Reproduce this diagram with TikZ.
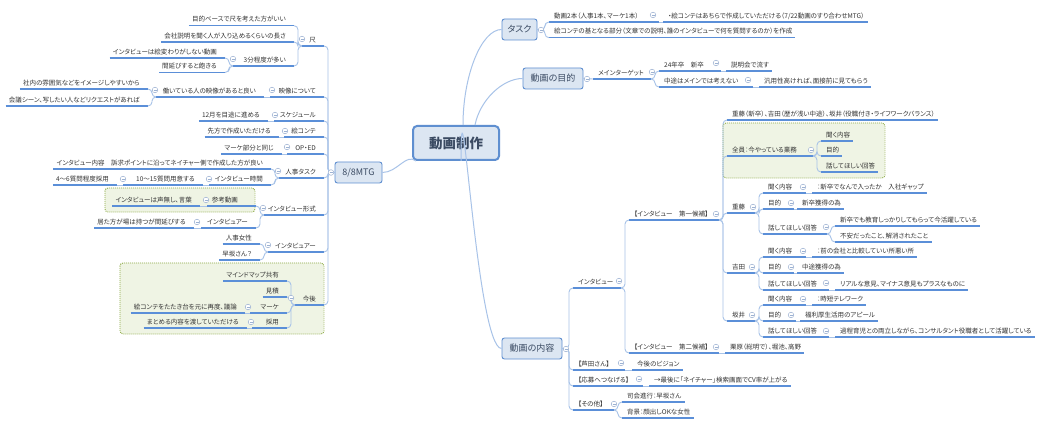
\documentclass[tikz,border=0pt]{standalone}
\usepackage{fontspec}
\newfontfamily\jp[RawFeature=+palt]{Noto Sans CJK JP}
\definecolor{ul}{HTML}{5B8FD8}
\definecolor{cn}{HTML}{A8C3E8}
\definecolor{bfill}{HTML}{DCE6F2}
\definecolor{bdraw}{HTML}{5F8FD0}
\definecolor{txt}{HTML}{333333}
\definecolor{ttxt}{HTML}{3A4A62}
\definecolor{gfill}{HTML}{EFF4E4}
\definecolor{gdraw}{HTML}{8DAA45}
\definecolor{mcol}{HTML}{9DB2D2}
\tikzset{
  uline/.style={draw=ul, line width=1.1pt},
  conn/.style={draw=cn, line width=0.9pt, rounded corners=4pt},
  mconn/.style={draw=cn, line width=1pt},
  topic/.style={font=\jp\fontsize{6.5}{7.5}\selectfont, text=txt, inner xsep=3pt, inner ysep=2.5pt,
    text height=5.8pt, text depth=1.2pt,
    append after command={(\tikzlastnode.south west) edge[uline] (\tikzlastnode.south east)}},
  tr/.style={topic, anchor=south west, execute at begin node={\hspace*{2pt}}},
  tl/.style={topic, anchor=south east, execute at end node={\hspace*{5pt}}},
  mainbox/.style={draw=bdraw, fill=bfill, line width=0.9pt, rounded corners=2.5pt,
    font=\jp\fontsize{9}{10}\selectfont, text=ttxt, inner sep=0pt, minimum height=21pt},
  minus/.style={circle, draw=mcol, fill=white, line width=0.5pt, minimum size=5.6pt, inner sep=0pt,
    path picture={\draw[mcol, line width=0.5pt] ([xshift=1.3pt]path picture bounding box.west) -- ([xshift=-1.3pt]path picture bounding box.east);}},
  gbox/.style={draw=gdraw, fill=gfill, line width=0.9pt, dash pattern=on 0.9pt off 1.1pt, rounded corners=3pt},
}
\newcommand\MB[3]{\node[minus] (#1) at (#2,#3) {};}
\newcommand\CR[2]{\draw[conn] (#1) -| ([xshift=-4pt]#2.south west) -- (#2.south west);}
\newcommand\CL[2]{\draw[conn] (#1) -| ([xshift=4pt]#2.south east) -- (#2.south east);}
\newcommand\FR[3]{\coordinate (#1f) at (#2,#3); \draw[uline] (#1.south east) -- (#1f);}
\newcommand\FL[3]{\coordinate (#1f) at (#2,#3); \draw[uline] (#1.south west) -- (#1f);}
% inline child: parent, child, fork x, child x, y, text
\newcommand\IR[6]{\coordinate (#1f) at (#3,#5); \node[tr] (#2) at (#4,#5) {#6};
  \draw[uline] (#1.south east) -- (#1f); \draw[conn] (#1f) -- (#2.south west);}
\newcommand\IL[6]{\coordinate (#1f) at (#3,#5); \node[tl] (#2) at (#4,#5) {#6};
  \draw[uline] (#1.south west) -- (#1f); \draw[conn] (#1f) -- (#2.south east);}
\begin{document}
\begin{tikzpicture}[x=1pt,y=-1pt]
\useasboundingbox (0,0) rectangle (1046,427);
\fill[white] (0,0) rectangle (1046,427);
% boundaries
\draw[gbox] (723,123) rectangle (885,178);
\draw[gbox] (105,188) rectangle (255,212);
\draw[gbox] (120,263) rectangle (324,334);
% root and main topics
\node[draw=bdraw, fill=bfill, line width=2pt, rounded corners=4pt, minimum width=86pt, minimum height=34pt,
  font=\jp\bfseries\fontsize{13.5}{16}\selectfont, text=ttxt, inner sep=0pt] (root) at (456,143) {動画制作};
\node[mainbox, minimum width=35pt] (T) at (519.5,29.5) {タスク};
\node[mainbox, minimum width=60pt] (P) at (553,78.5) {動画の目的};
\node[mainbox, minimum width=60pt] (C) at (532,348.5) {動画の内容};
\node[mainbox, minimum width=47pt] (M) at (358.5,172.5) {8/8MTG};
\draw[mconn] ([xshift=7pt]root.north) .. controls +(0,-50) and +(-20,0) .. (T.west);
\draw[mconn] ([xshift=19pt]root.north) .. controls +(5,-25) and +(-20,0) .. (P.west);
\draw[mconn] ([xshift=5pt]root.south) .. controls +(0,-120) and +(-25,0) .. (C.west);
\draw[mconn] ([xshift=4pt]root.south west) .. controls +(-10,-8) and +(15,0) .. (M.east);
% ---- タスク
\node[tr] (t1) at (549,22) {動画2本（人事1本、マーケ1本）};
\node[tr] (t2) at (549,37.7) {絵コンテの基となる部分（文章での説明、誰のインタビューで何を質問するのか）を作成};
\CR{T.east}{t1} \CR{T.east}{t2}
\IR{t1}{t1a}{659}{663}{22}{・絵コンテはあちらで作成していただける（7/22動画のすり合わせMTG）}
% ---- 動画の目的
\node[tr] (p1) at (593,79) {メインターゲット};
\draw[conn] (P.east) -- (p1.south west);
\FR{p1}{651}{79}
\node[tr] (p11) at (659,71) {24年卒　新卒};
\node[tr] (p12) at (659,87) {中途はメインでは考えない};
\CR{p1f}{p11} \CR{p1f}{p12}
\IR{p11}{p11a}{721}{726}{71}{説明会で流す}
\IR{p12}{p12a}{753}{759}{87}{汎用性高ければ、面接前に見てもらう}
% ---- 動画の内容
\node[tr] (c1) at (573,288) {インタビュー};
\node[tr] (c2) at (573,370) {【芦田さん】};
\node[tr] (c3) at (573,386) {【応募へつなげる】};
\node[tr] (c4) at (573,410) {【その他】};
\foreach \n in {c1,c2,c3,c4} {\CR{C.east}{\n}}
\FR{c1}{621}{288}
\node[tr] (c11) at (629,220) {【インタビュー　第一候補】};
\node[tr] (c12) at (629,353) {【インタビュー　第二候補】};
\CR{c1f}{c11} \CR{c1f}{c12}
\FR{c11}{719}{220}
\node[tr] (c111) at (727,120) {重藤（新卒）、吉田（歴が浅い中途）、坂井（役職付き・ライフワークバランス）};
\node[tr] (c112) at (727,156) {全員：今やっている業務};
\node[tr] (c113) at (727,213) {重藤};
\node[tr] (c114) at (727,273) {吉田};
\node[tr] (c115) at (727,321) {坂井};
\foreach \n in {c111,c112,c113,c114,c115} {\CR{c11f}{\n}}
\FR{c112}{813}{156}
\node[tr] (c1121) at (821,141) {聞く内容};
\node[tr] (c1122) at (821,156) {目的};
\node[tr] (c1123) at (821,172) {話してほしい回答};
\foreach \n in {c1121,c1122,c1123} {\CR{c112f}{\n}}
% 重藤
\FR{c113}{755}{213}
\node[tr] (c1131) at (763,193) {聞く内容};
\node[tr] (c1132) at (763,209) {目的};
\node[tr] (c1133) at (763,234) {話してほしい回答};
\foreach \n in {c1131,c1132,c1133} {\CR{c113f}{\n}}
\IR{c1131}{c1131a}{806}{812}{193}{：新卒でなんで入ったか　入社ギャップ}
\IR{c1132}{c1132a}{794}{797}{209}{新卒獲得の為}
\FR{c1133}{827}{234}
\node[tr] (c11331) at (835,226) {新卒でも教育しっかりしてもらって今活躍している};
\node[tr] (c11332) at (835,242) {不安だったこと、解消されたこと};
\CR{c1133f}{c11331} \CR{c1133f}{c11332}
% 吉田
\FR{c114}{755}{273}
\node[tr] (c1141) at (763,257) {聞く内容};
\node[tr] (c1142) at (763,273) {目的};
\node[tr] (c1143) at (763,290) {話してほしい回答};
\foreach \n in {c1141,c1142,c1143} {\CR{c114f}{\n}}
\IR{c1141}{c1141a}{806}{812}{257}{：前の会社と比較していい所悪い所}
\IR{c1142}{c1142a}{794}{797}{273}{中途獲得の為}
\IR{c1143}{c1143a}{829}{835}{290}{リアルな意見、マイナス意見もプラスなものに}
% 坂井
\FR{c115}{755}{321}
\node[tr] (c1151) at (763,305) {聞く内容};
\node[tr] (c1152) at (763,321) {目的};
\node[tr] (c1153) at (763,337) {話してほしい回答};
\foreach \n in {c1151,c1152,c1153} {\CR{c115f}{\n}}
\IR{c1151}{c1151a}{806}{812}{305}{：時短テレワーク}
\IR{c1152}{c1152a}{796}{800}{321}{福利厚生活用のアピール}
\IR{c1153}{c1153a}{829}{835}{337}{過程育児との両立しながら、コンサルタント役職者として活躍している}
\IR{c12}{c12a}{719}{725}{353}{栗原（総明で）、堀池、高野}
\IR{c2}{c2a}{625}{632}{370}{今後のビジョン}
\IR{c3}{c3a}{643}{649}{386}{→最後に「ネイチャー」検索画面でCV率が上がる}
\FR{c4}{614}{410}
\node[tr] (c41) at (622,402) {司会進行：早坂さん};
\node[tr] (c42) at (622,418) {背景：顔出しOKな女性};
\CR{c4f}{c41} \CR{c4f}{c42}
% ---- 8/8MTG
\node[tl] (l1) at (324,46) {尺};
\node[tl] (l2) at (324,97) {映像について};
\node[tl] (l3) at (324,121) {スケジュール};
\node[tl] (l4) at (324,137) {絵コンテ};
\node[tl] (l5) at (324,154) {OP・ED};
\node[tl] (l6) at (324,178) {人事タスク};
\node[tl] (l7) at (324,215) {インタビュー形式};
\node[tl] (l8) at (324,252) {インタビュアー};
\node[tl] (l9) at (324,305) {今後};
\foreach \n in {l1,l2,l3,l4,l5,l6,l7,l8,l9} {\CL{M.west}{\n}}
\FL{l1}{302}{46}
\node[tl] (l11) at (294,25.7) {目的ベースで尺を考えた方がいい};
\node[tl] (l12) at (294,42) {会社説明を聞く人が入り込めるくらいの長さ};
\node[tl] (l13) at (294,66) {3分程度が多い};
\foreach \n in {l11,l12,l13} {\CL{l1f}{\n}}
\FL{l13}{233}{66}
\node[tl] (l131) at (225,58) {インタビューは絵変わりがしない動画};
\node[tl] (l132) at (225,72.5) {間延びすると飽きる};
\CL{l13f}{l131} \CL{l13f}{l132}
\IL{l2}{l21}{270}{264}{97}{働いている人の映像があると良い}
\FL{l21}{156}{97}
\node[tl] (l211) at (148,89) {社内の雰囲気などをイメージしやすいから};
\node[tl] (l212) at (148,106) {会議シーン、写したい人などリクエストがあれば};
\CL{l21f}{l211} \CL{l21f}{l212}
\IL{l3}{l3a}{274}{268}{121}{12月を目途に進める}
\IL{l4}{l4a}{284}{279}{137}{先方で作成いただける}
\IL{l5}{l5a}{287}{282}{154}{マーケ部分と同じ}
\FL{l6}{279}{178}
\node[tl] (l61) at (271,169) {インタビュー内容　訴求ポイントに沿ってネイチャー側で作成した方が良い};
\node[tl] (l62) at (271,185) {インタビュー時間};
\CL{l6f}{l61} \CL{l6f}{l62}
\IL{l62}{l621}{209}{203}{185}{10～15質問用意する}
\IL{l621}{l6211}{123}{117}{185}{4～6質問程度採用}
\FL{l7}{264}{215}
\node[tl] (l71) at (256,206) {参考動画\hspace*{10pt}};
\node[tl] (l72) at (256,228) {インタビュアー};
\CL{l7f}{l71} \CL{l7f}{l72}
\IL{l71}{l71a}{207}{200}{206}{インタビューは声無し、言葉}
\IL{l72}{l72a}{201}{194}{228}{居た方が場は持つが間延びする}
\FL{l8}{268}{252}
\node[tl] (l81) at (260,244) {人事女性};
\node[tl] (l82) at (260,260) {早坂さん？};
\CL{l8f}{l81} \CL{l8f}{l82}
\FL{l9}{295}{305}
\node[tl] (l91) at (287,281) {マインドマップ共有};
\node[tl] (l92) at (287,297) {見積};
\node[tl] (l93) at (287,313) {マーケ};
\node[tl] (l94) at (287,328) {採用};
\foreach \n in {l91,l92,l93,l94} {\CL{l9f}{\n}}
\IL{l93}{l93a}{250}{245}{313}{絵コンテをたたき台を元に再度、議論}
\IL{l94}{l94a}{252}{247}{328}{まとめる内容を渡していただける}
% ---- collapse markers
\MB{Tm}{541}{30} \MB{Pm}{587}{79} \MB{Cm}{566}{349} \MB{Mm}{331}{172.5}
\MB{t1m}{653}{15} \MB{p1m}{652}{72} \MB{p11m}{716}{63} \MB{p12m}{748}{80}
\MB{c1m}{619}{281} \MB{c11m}{716}{214} \MB{c12m}{716}{347} \MB{c2m}{621}{363} \MB{c3m}{639}{379} \MB{c4m}{614}{404}
\MB{c112m}{811}{150} \MB{c113m}{753}{207} \MB{c114m}{752}{267} \MB{c115m}{752}{315}
\MB{c1131m}{803}{187} \MB{c1132m}{791}{203} \MB{c1133m}{826}{227}
\MB{c1141m}{803}{251} \MB{c1142m}{791}{267} \MB{c1143m}{826}{283}
\MB{c1151m}{803}{299} \MB{c1152m}{791}{315} \MB{c1153m}{826}{331}
\MB{l1m}{302}{39} \MB{l13m}{233}{59} \MB{l2m}{272}{90} \MB{l21m}{155}{90}
\MB{l3m}{275}{115} \MB{l4m}{285}{131} \MB{l5m}{287}{147} \MB{l6m}{278}{171}
\MB{l62m}{209}{179} \MB{l621m}{123}{179} \MB{l7m}{263}{208} \MB{l71m}{206}{200}
\MB{l72m}{197}{222} \MB{l8m}{268}{245} \MB{l9m}{291}{298} \MB{l93m}{248}{307} \MB{l94m}{251}{322}
\end{tikzpicture}
\end{document}
